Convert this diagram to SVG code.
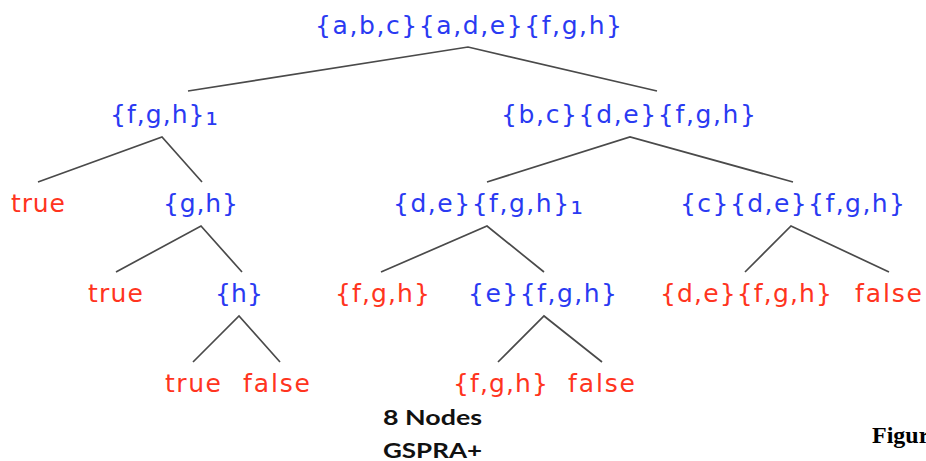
<svg xmlns="http://www.w3.org/2000/svg" width="926" height="461" viewBox="0 0 926 461">
<style>
.t{font-family:"DejaVu Sans",Verdana,sans-serif;font-size:25px}
.b{fill:#2a3af2}
.r{fill:#ff3420}
.s{font-size:31px}
.e{stroke:#4a4a4a;stroke-width:1.7;fill:none}
.cap{font-family:Lato,"Open Sans",sans-serif;font-weight:bold;font-size:21px;fill:#111}
.fig{font-family:"Liberation Serif",serif;font-weight:bold;font-size:24px;fill:#000}
</style>
<rect width="926" height="461" fill="#fff"/>
<g id="connectors">
<polyline class="e" points="188,91 468,47 657,91"/>
<polyline class="e" points="38,182 162,137 202,182"/>
<polyline class="e" points="487,182 630,137 793,182"/>
<polyline class="e" points="116,272 201,226 242,272"/>
<polyline class="e" points="381,272 487,226 544,272"/>
<polyline class="e" points="745,272 791,226 889,272"/>
<polyline class="e" points="193,362 239,316 280,362"/>
<polyline class="e" points="498,362 544,316 602,362"/>
</g>
<g id="n-root"><text class="t b" x="315" y="34" textLength="307" lengthAdjust="spacing">{a,b,c}{a,d,e}{f,g,h}</text></g>
<g id="n-fgh1"><text class="t b" x="110" y="123" textLength="108" lengthAdjust="spacing">{f,g,h}<tspan class="s" dy="2">₁</tspan></text></g>
<g id="n-bcdefgh"><text class="t b" x="501" y="123" textLength="255" lengthAdjust="spacing">{b,c}{d,e}{f,g,h}</text></g>
<g id="n-true1"><text class="t r" x="11" y="212" textLength="54" lengthAdjust="spacing">true</text></g>
<g id="n-gh"><text class="t b" x="163" y="212" textLength="75" lengthAdjust="spacing">{g,h}</text></g>
<g id="n-defgh1"><text class="t b" x="393" y="212" textLength="190" lengthAdjust="spacing">{d,e}{f,g,h}<tspan class="s" dy="2">₁</tspan></text></g>
<g id="n-cdefgh"><text class="t b" x="680" y="212" textLength="225" lengthAdjust="spacing">{c}{d,e}{f,g,h}</text></g>
<g id="n-true2"><text class="t r" x="88" y="302" textLength="55" lengthAdjust="spacing">true</text></g>
<g id="n-h"><text class="t b" x="215" y="302" textLength="48" lengthAdjust="spacing">{h}</text></g>
<g id="n-fgh-r1"><text class="t r" x="335" y="302" textLength="95" lengthAdjust="spacing">{f,g,h}</text></g>
<g id="n-efgh"><text class="t b" x="468" y="302" textLength="149" lengthAdjust="spacing">{e}{f,g,h}</text></g>
<g id="n-defgh-r"><text class="t r" x="660" y="302" textLength="172" lengthAdjust="spacing">{d,e}{f,g,h}</text></g>
<g id="n-false1"><text class="t r" x="855" y="302" textLength="67" lengthAdjust="spacing">false</text></g>
<g id="n-true3"><text class="t r" x="165" y="392" textLength="56" lengthAdjust="spacing">true</text></g>
<g id="n-false2"><text class="t r" x="243" y="392" textLength="67" lengthAdjust="spacing">false</text></g>
<g id="n-fgh-r2"><text class="t r" x="453" y="392" textLength="95" lengthAdjust="spacing">{f,g,h}</text></g>
<g id="n-false3"><text class="t r" x="568" y="392" textLength="67" lengthAdjust="spacing">false</text></g>
<g id="caption">
<text class="cap" x="383" y="425" textLength="99" lengthAdjust="spacingAndGlyphs">8 Nodes</text>
<text class="cap" x="383" y="458" textLength="99" lengthAdjust="spacingAndGlyphs">GSPRA+</text>
<text class="fig" x="872" y="443">Figure</text>
</g>
</svg>
